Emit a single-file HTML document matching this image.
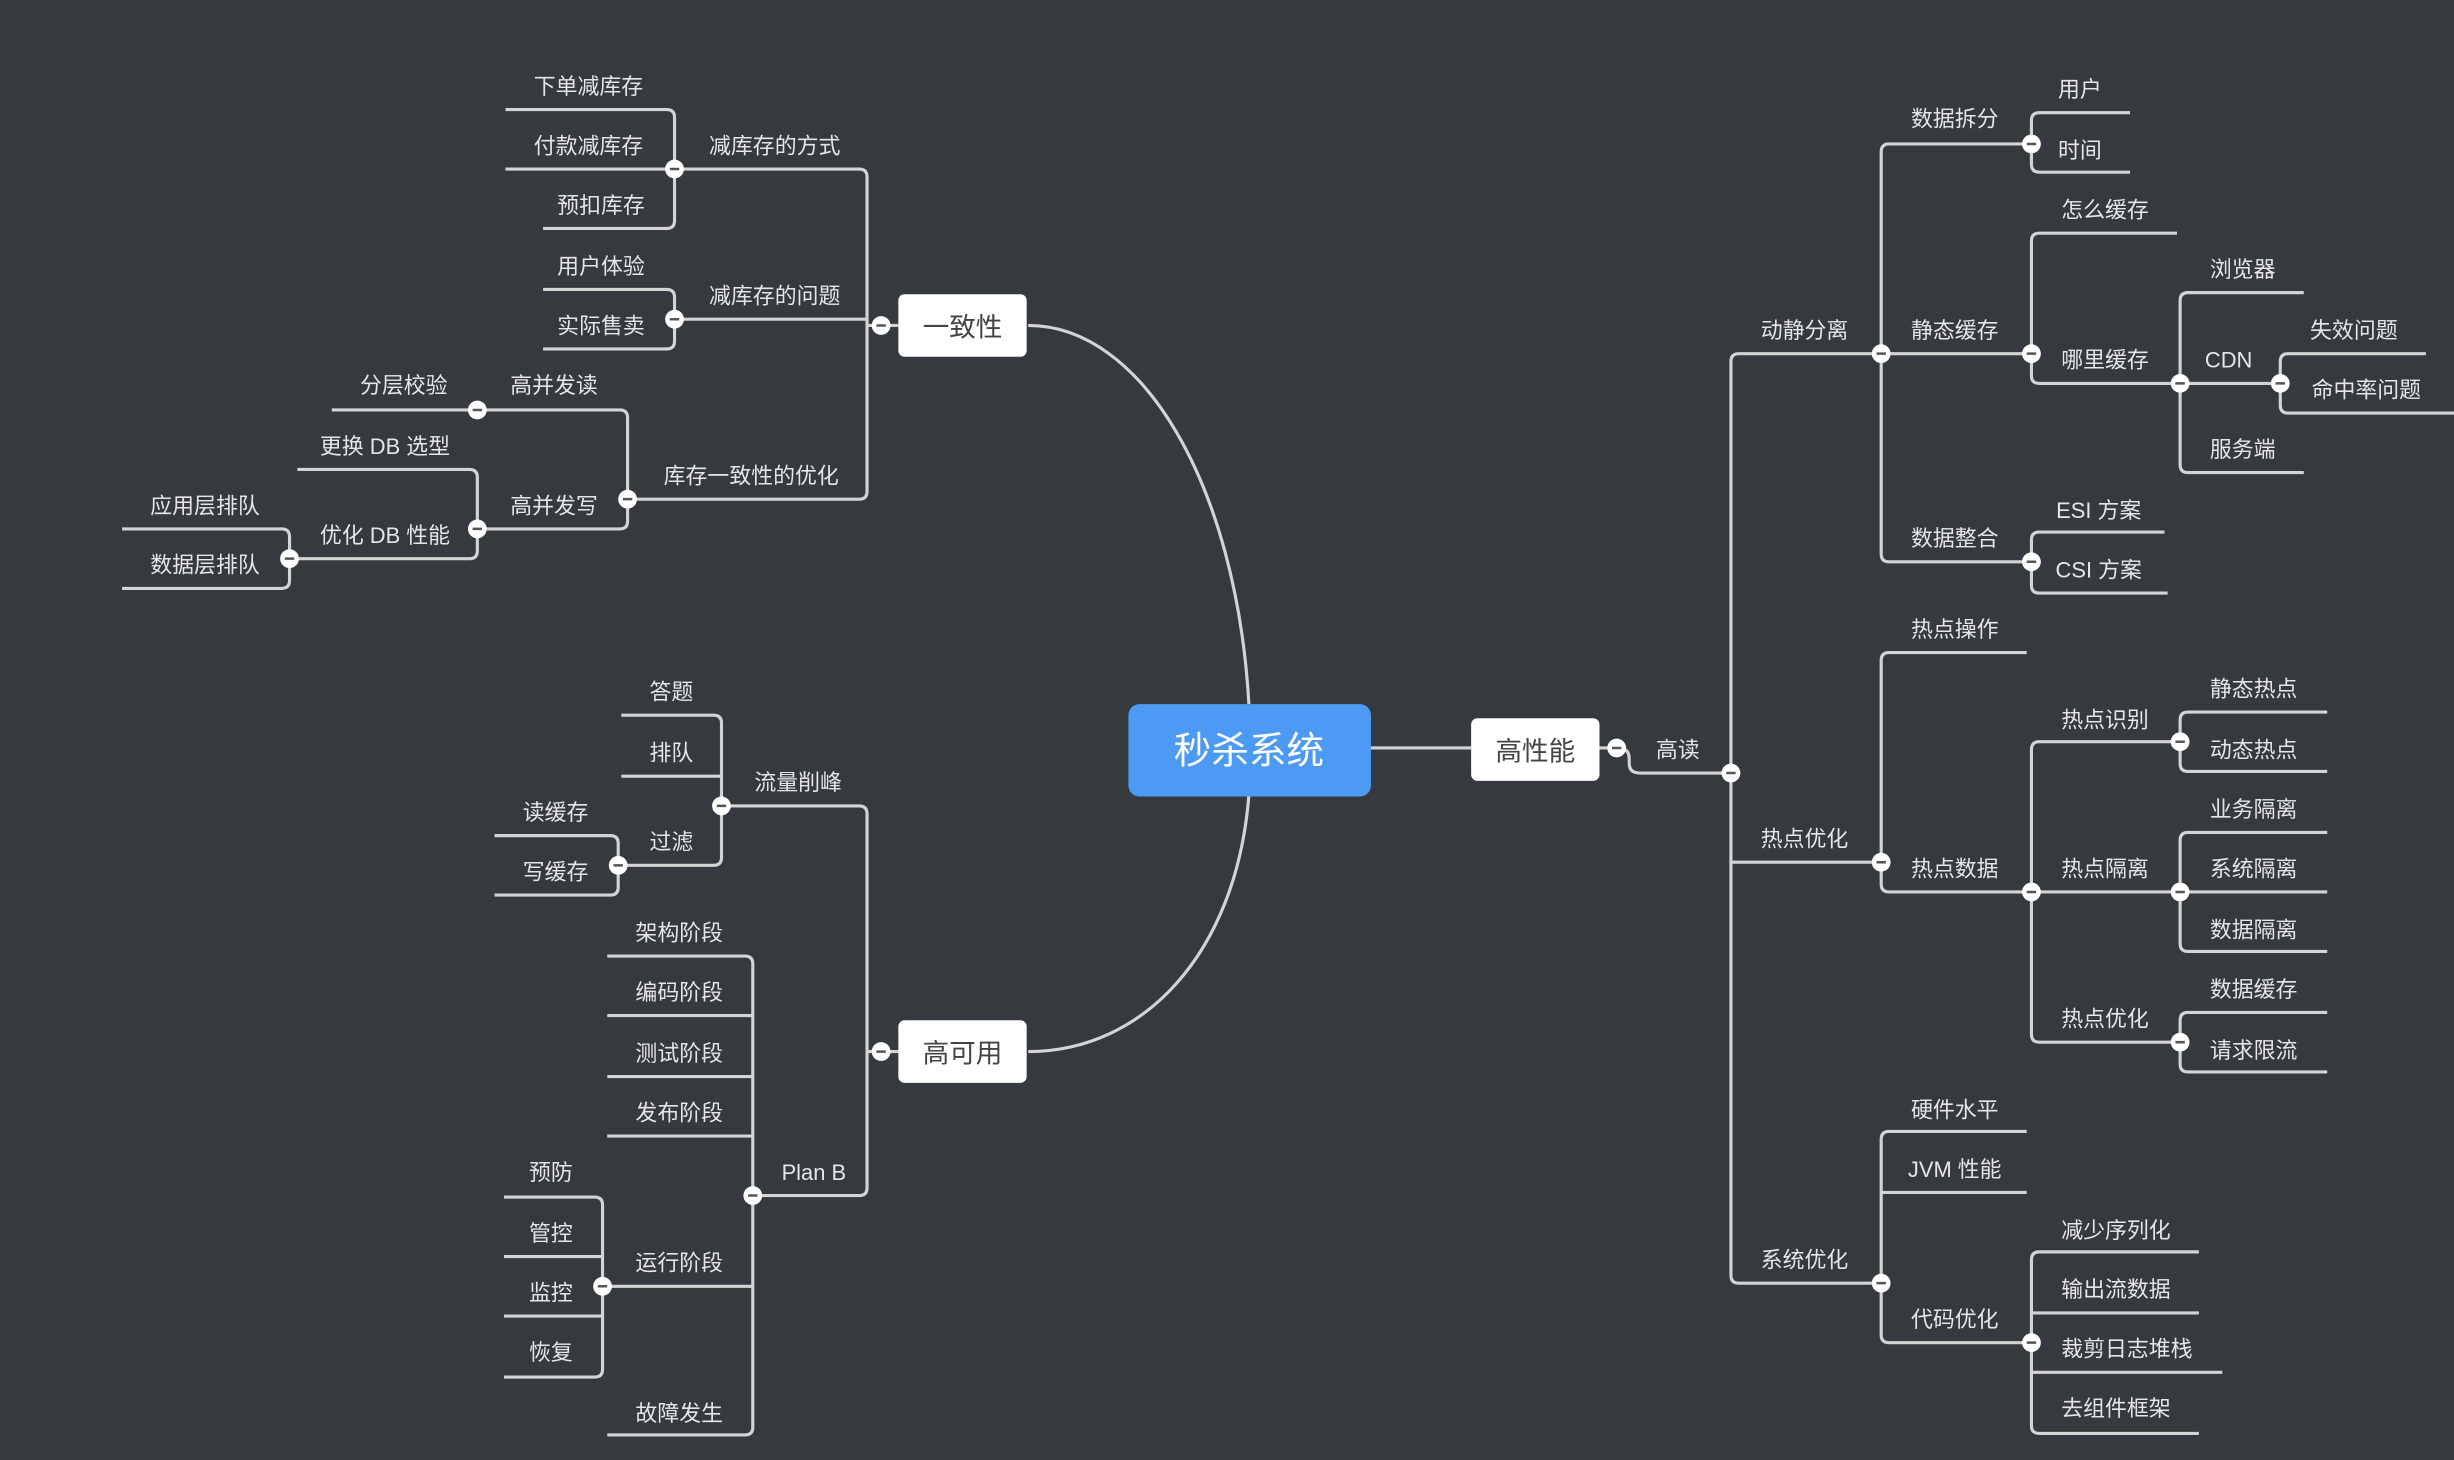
<!DOCTYPE html>
<html><head><meta charset="utf-8">
<style>
html,body{margin:0;padding:0;background:#36393e;}
svg{display:block;}
text{font-family:"Liberation Sans","Noto Sans CJK SC",sans-serif;font-size:14px;fill:#e6e6e6;text-anchor:middle;}
.l path{fill:none;stroke:#d4d4d4;stroke-width:2;}
</style></head><body>
<svg width="2454" height="1460" viewBox="0 0 1568 933" preserveAspectRatio="none" xmlns="http://www.w3.org/2000/svg">
<rect width="1568" height="933" fill="#36393e"/>
<g class="l">
<!-- curves from center -->
<path d="M798,450 C790,310 730,208 657,208"/>
<path d="M798,508 C790,610 730,672 657,672"/>
<!-- left: consistency -->
<path d="M431,108 H549 Q554,108 554,113 V314 Q554,319 549,319 H401"/>
<path d="M431,204 H554"/><path d="M554,208 H574"/>
<path d="M323,70 H426 Q431,70 431,75 V141 Q431,146 426,146 H347"/><path d="M323,108 H431"/>
<path d="M347,185 H426 Q431,185 431,190 V218 Q431,223 426,223 H347"/>
<path d="M305,262 H396 Q401,262 401,267 V333 Q401,338 396,338 H305"/><path d="M212,262 H305"/>
<path d="M190,300 H300 Q305,300 305,305 V352 Q305,357 300,357 H190"/>
<path d="M78,338 H180 Q185,338 185,343 V371 Q185,376 180,376 H78"/>
<!-- left: availability -->
<path d="M461,515 H549 Q554,515 554,520 V759 Q554,764 549,764 H481"/><path d="M554,672 H574"/>
<path d="M397,457 H456 Q461,457 461,462 V548 Q461,553 456,553 H395"/><path d="M397,496 H461"/>
<path d="M316,534 H390 Q395,534 395,539 V567 Q395,572 390,572 H316"/>
<path d="M388,611 H476 Q481,611 481,616 V912 Q481,917 476,917 H388"/>
<path d="M388,649 H481"/><path d="M388,688 H481"/><path d="M388,726 H481"/><path d="M385,822 H481"/>
<path d="M322,765 H380 Q385,765 385,770 V875 Q385,880 380,880 H322"/>
<path d="M322,803 H385"/><path d="M322,841 H385"/>
<!-- right -->
<path d="M876,478 H940"/>
<path d="M1022,478 H1034 Q1041,478 1041,485 V488 Q1041,494 1048,494 H1106"/>
<path d="M1202,226 H1111 Q1106,226 1106,231 V815 Q1106,820 1111,820 H1202"/><path d="M1106,551 H1202"/>
<path d="M1298,92 H1207 Q1202,92 1202,97 V354 Q1202,359 1207,359 H1298"/><path d="M1202,226 H1298"/>
<path d="M1361,72 H1303 Q1298,72 1298,77 V105 Q1298,110 1303,110 H1361"/>
<path d="M1391,149 H1303 Q1298,149 1298,154 V240 Q1298,245 1303,245 H1393"/>
<path d="M1472,187 H1398 Q1393,187 1393,192 V297 Q1393,302 1398,302 H1472"/><path d="M1393,245 H1457"/>
<path d="M1550,226 H1462 Q1457,226 1457,231 V259 Q1457,264 1462,264 H1568"/>
<path d="M1383,340 H1303 Q1298,340 1298,345 V374 Q1298,379 1303,379 H1385"/>
<path d="M1295,417 H1207 Q1202,417 1202,422 V565 Q1202,570 1207,570 H1298"/>
<path d="M1393,474 H1303 Q1298,474 1298,479 V661 Q1298,666 1303,666 H1393"/><path d="M1298,570 H1393"/>
<path d="M1487,455 H1398 Q1393,455 1393,460 V488 Q1393,493 1398,493 H1487"/>
<path d="M1487,532 H1398 Q1393,532 1393,537 V603 Q1393,608 1398,608 H1487"/><path d="M1393,570 H1487"/>
<path d="M1487,647 H1398 Q1393,647 1393,652 V680 Q1393,685 1398,685 H1487"/>
<path d="M1295,723 H1207 Q1202,723 1202,728 V853 Q1202,858 1207,858 H1298"/><path d="M1202,762 H1295"/>
<path d="M1405,800 H1303 Q1298,800 1298,805 V911 Q1298,916 1303,916 H1405"/>
<path d="M1298,839 H1405"/><path d="M1298,877 H1420"/>
</g>
<!-- nodes -->
<rect x="721" y="450" width="155" height="59" rx="7" fill="#4d9af5"/>
<text x="798" y="488" style="font-size:24px;fill:#fff">秒杀系统</text>
<rect x="574" y="188" width="82" height="40" rx="4" fill="#fff"/>
<text x="615" y="215" style="font-size:17px;fill:#444">一致性</text>
<rect x="574" y="652" width="82" height="40" rx="4" fill="#fff"/>
<text x="615" y="679" style="font-size:17px;fill:#444">高可用</text>
<rect x="940" y="459" width="82" height="40" rx="4" fill="#fff"/>
<text x="981" y="486" style="font-size:17px;fill:#444">高性能</text>
<!-- labels left -->
<text x="376" y="60">下单减库存</text>
<text x="376" y="98">付款减库存</text>
<text x="384" y="136">预扣库存</text>
<text x="495" y="98">减库存的方式</text>
<text x="384" y="175">用户体验</text>
<text x="384" y="213">实际售卖</text>
<text x="495" y="194">减库存的问题</text>
<text x="480" y="309">库存一致性的优化</text>
<text x="354" y="251">高并发读</text>
<text x="258" y="251">分层校验</text>
<text x="354" y="328">高并发写</text>
<text x="246" y="290">更换 DB 选型</text>
<text x="246" y="347">优化 DB 性能</text>
<text x="131" y="328">应用层排队</text>
<text x="131" y="366">数据层排队</text>
<text x="429" y="447">答题</text>
<text x="429" y="486">排队</text>
<text x="429" y="543">过滤</text>
<text x="510" y="505">流量削峰</text>
<text x="355" y="524">读缓存</text>
<text x="355" y="562">写缓存</text>
<text x="434" y="601">架构阶段</text>
<text x="434" y="639">编码阶段</text>
<text x="434" y="678">测试阶段</text>
<text x="434" y="716">发布阶段</text>
<text x="434" y="812">运行阶段</text>
<text x="434" y="908">故障发生</text>
<text x="520" y="754">Plan B</text>
<text x="352" y="754">预防</text>
<text x="352" y="793">管控</text>
<text x="352" y="831">监控</text>
<text x="352" y="869">恢复</text>
<!-- labels right -->
<text x="1072" y="484">高读</text>
<text x="1153" y="216">动静分离</text>
<text x="1153" y="541">热点优化</text>
<text x="1153" y="810">系统优化</text>
<text x="1249" y="81">数据拆分</text>
<text x="1249" y="216">静态缓存</text>
<text x="1249" y="349">数据整合</text>
<text x="1329" y="62">用户</text>
<text x="1329" y="101">时间</text>
<text x="1345" y="139">怎么缓存</text>
<text x="1345" y="235">哪里缓存</text>
<text x="1433" y="177">浏览器</text>
<text x="1424" y="235">CDN</text>
<text x="1433" y="292">服务端</text>
<text x="1504" y="216">失效问题</text>
<text x="1512" y="254">命中率问题</text>
<text x="1341" y="331">ESI 方案</text>
<text x="1341" y="369">CSI 方案</text>
<text x="1249" y="407">热点操作</text>
<text x="1249" y="560">热点数据</text>
<text x="1345" y="465">热点识别</text>
<text x="1345" y="560">热点隔离</text>
<text x="1345" y="656">热点优化</text>
<text x="1440" y="445">静态热点</text>
<text x="1440" y="484">动态热点</text>
<text x="1440" y="522">业务隔离</text>
<text x="1440" y="560">系统隔离</text>
<text x="1440" y="599">数据隔离</text>
<text x="1440" y="637">数据缓存</text>
<text x="1440" y="676">请求限流</text>
<text x="1249" y="714">硬件水平</text>
<text x="1249" y="752">JVM 性能</text>
<text x="1249" y="848">代码优化</text>
<text x="1352" y="791">减少序列化</text>
<text x="1352" y="829">输出流数据</text>
<text x="1359" y="867">裁剪日志堆栈</text>
<text x="1352" y="905">去组件框架</text>
<!-- collapse circles -->
<g fill="#fff" stroke="#5a5a5a" stroke-width="1.5">
<g id="c"></g>
</g>
<g>
<circle cx="563" cy="208" r="6" fill="#fff"/><circle cx="431" cy="108" r="6" fill="#fff"/><circle cx="431" cy="204" r="6" fill="#fff"/><circle cx="401" cy="319" r="6" fill="#fff"/><circle cx="305" cy="262" r="6" fill="#fff"/><circle cx="305" cy="338" r="6" fill="#fff"/><circle cx="185" cy="357" r="6" fill="#fff"/><circle cx="563" cy="672" r="6" fill="#fff"/><circle cx="461" cy="515" r="6" fill="#fff"/><circle cx="395" cy="553" r="6" fill="#fff"/><circle cx="481" cy="764" r="6" fill="#fff"/><circle cx="385" cy="822" r="6" fill="#fff"/>
<circle cx="1033" cy="478" r="6" fill="#fff"/><circle cx="1106" cy="494" r="6" fill="#fff"/><circle cx="1202" cy="226" r="6" fill="#fff"/><circle cx="1298" cy="92" r="6" fill="#fff"/><circle cx="1298" cy="226" r="6" fill="#fff"/><circle cx="1393" cy="245" r="6" fill="#fff"/><circle cx="1457" cy="245" r="6" fill="#fff"/><circle cx="1298" cy="359" r="6" fill="#fff"/><circle cx="1202" cy="551" r="6" fill="#fff"/><circle cx="1298" cy="570" r="6" fill="#fff"/><circle cx="1393" cy="474" r="6" fill="#fff"/><circle cx="1393" cy="570" r="6" fill="#fff"/><circle cx="1393" cy="666" r="6" fill="#fff"/><circle cx="1202" cy="820" r="6" fill="#fff"/><circle cx="1298" cy="858" r="6" fill="#fff"/>
</g>
<g stroke="#555" stroke-width="1.6">
<path d="M560,208h6M428,108h6M428,204h6M398,319h6M302,262h6M302,338h6M182,357h6M560,672h6M458,515h6M392,553h6M478,764h6M382,822h6M1030,478h6M1103,494h6M1199,226h6M1295,92h6M1295,226h6M1390,245h6M1454,245h6M1295,359h6M1199,551h6M1295,570h6M1390,474h6M1390,570h6M1390,666h6M1199,820h6M1295,858h6"/>
</g>
</svg>
</body></html>
